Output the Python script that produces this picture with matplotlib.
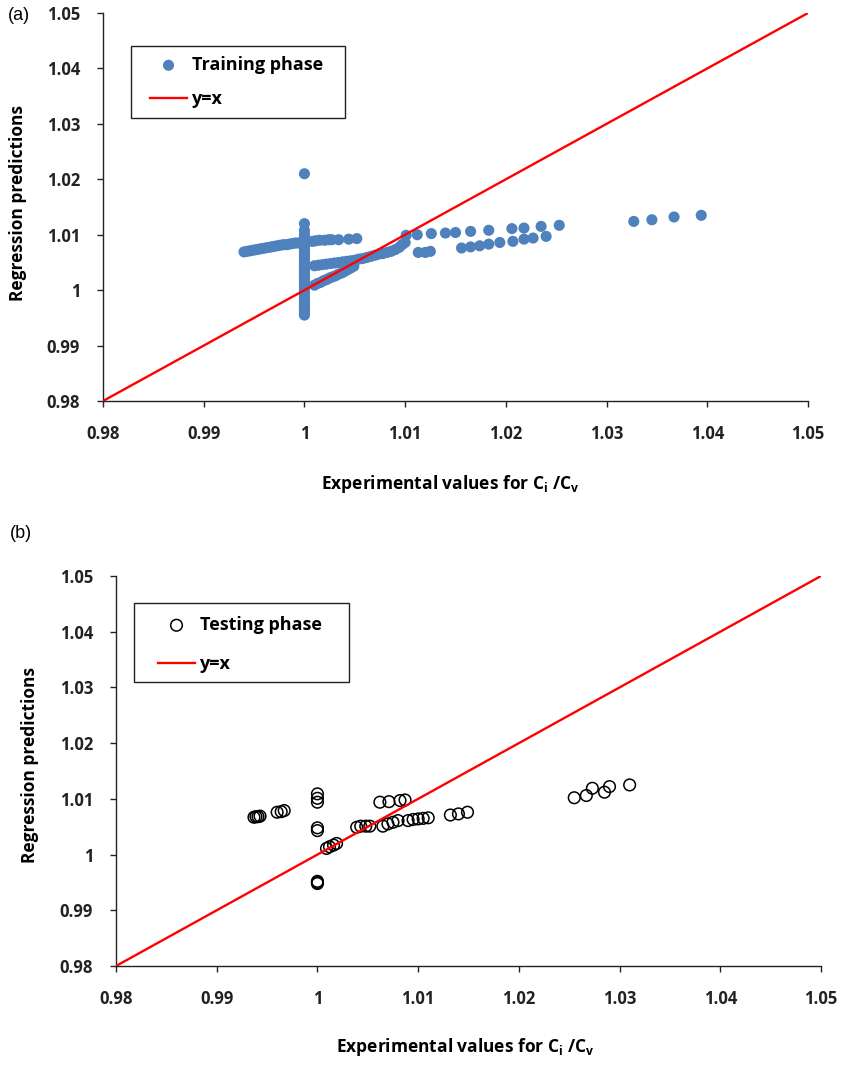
import matplotlib
matplotlib.use("Agg")
import matplotlib.pyplot as plt
from matplotlib.patches import Rectangle

# ---------------- data: training phase (panel a) ----------------
train_col_x = [1.0] * 34
train_col_y = [0.9955, 0.9958, 0.9962, 0.9966, 0.9970, 0.9975, 0.9980, 0.9985, 0.9990, 0.9995,
               1.0000, 1.0005, 1.0010, 1.0015, 1.0020, 1.0025, 1.0030, 1.0035, 1.0040, 1.0045,
               1.0050, 1.0055, 1.0060, 1.0065, 1.0070, 1.0075, 1.0080, 1.0085, 1.0090, 1.0096,
               1.0100, 1.0108, 1.0120, 1.0210]

train_left_x = [0.9940, 0.9943, 0.9946, 0.9949, 0.9952, 0.9955, 0.9958, 0.9961, 0.9964, 0.9967,
                0.9970, 0.9973, 0.9976, 0.9979, 0.9982, 0.9985, 0.9988, 0.9991, 0.9994, 0.9997]
train_left_y = [1.0069, 1.0070, 1.0071, 1.0072, 1.0073, 1.0074, 1.0075, 1.0076, 1.0077, 1.0078,
                1.0079, 1.0080, 1.0081, 1.0082, 1.0082, 1.0083, 1.0084, 1.0085, 1.0085, 1.0086]

train_top_x = [1.0008, 1.0011, 1.0015, 1.0020, 1.0024, 1.0027, 1.0034, 1.0044, 1.0052]
train_top_y = [1.0088, 1.0089, 1.0090, 1.0090, 1.0091, 1.0091, 1.0091, 1.0092, 1.0093]

train_mid_x = [1.0010, 1.0014, 1.0018, 1.0022, 1.0026, 1.0030, 1.0034, 1.0038, 1.0042, 1.0046,
               1.0050, 1.0054, 1.0058, 1.0062, 1.0066, 1.0070, 1.0074, 1.0078, 1.0082, 1.0086,
               1.0090, 1.0094, 1.0097, 1.0100]
train_mid_y = [1.0044, 1.0045, 1.0046, 1.0047, 1.0048, 1.0049, 1.0050, 1.0051, 1.0052, 1.0053,
               1.0054, 1.0056, 1.0057, 1.0059, 1.0061, 1.0063, 1.0065, 1.0066, 1.0068, 1.0070,
               1.0073, 1.0077, 1.0082, 1.0086]

train_low_x = [1.0010, 1.0013, 1.0016, 1.0019, 1.0022, 1.0025, 1.0028, 1.0031, 1.0034, 1.0037,
               1.0040, 1.0043, 1.0046, 1.0049]
train_low_y = [1.0009, 1.0012, 1.0014, 1.0017, 1.0019, 1.0022, 1.0024, 1.0026, 1.0029, 1.0031,
               1.0034, 1.0037, 1.0040, 1.0043]

train_up_x = [1.0101, 1.0112, 1.0126, 1.0140, 1.0150, 1.0165, 1.0183, 1.0206, 1.0218, 1.0235, 1.0253]
train_up_y = [1.0099, 1.0100, 1.0102, 1.0103, 1.0104, 1.0106, 1.0108, 1.0111, 1.0112, 1.0115, 1.0117]

train_lw_x = [1.0113, 1.0120, 1.0125, 1.0156, 1.0165, 1.0174, 1.0183, 1.0194, 1.0207, 1.0218,
              1.0227, 1.0240]
train_lw_y = [1.0068, 1.0068, 1.0070, 1.0076, 1.0078, 1.0080, 1.0083, 1.0086, 1.0088, 1.0092,
              1.0094, 1.0097]

train_far_x = [1.0327, 1.0345, 1.0367, 1.0394]
train_far_y = [1.0124, 1.0127, 1.0132, 1.0135]

train_x = (train_col_x + train_left_x + train_top_x + train_mid_x + train_low_x
           + train_up_x + train_lw_x + train_far_x)
train_y = (train_col_y + train_left_y + train_top_y + train_mid_y + train_low_y
           + train_up_y + train_lw_y + train_far_y)

# ---------------- data: testing phase (panel b) ----------------
test_x = [0.9937, 0.9939, 0.9941, 0.9943,
          0.9960, 0.9964, 0.9967,
          1.0000, 1.0000, 1.0000, 1.0000, 1.0000, 1.0000, 1.0000, 1.0000,
          1.0009, 1.0012, 1.0016, 1.0019,
          1.0039, 1.0043, 1.0048, 1.0052,
          1.0062, 1.0071, 1.0082, 1.0087,
          1.0065, 1.0070, 1.0075, 1.0080, 1.0090, 1.0095, 1.0100, 1.0105, 1.0110,
          1.0132, 1.0140, 1.0149,
          1.0255, 1.0267, 1.0273, 1.0285, 1.0290, 1.0310]
test_y = [1.0067, 1.0068, 1.0068, 1.0069,
          1.0076, 1.0077, 1.0079,
          1.0109, 1.0101, 1.0094, 1.0048, 1.0043, 0.9952, 0.9950, 0.9948,
          1.0011, 1.0014, 1.0017, 1.0020,
          1.0049, 1.0051, 1.0051, 1.0051,
          1.0094, 1.0095, 1.0097, 1.0098,
          1.0051, 1.0055, 1.0058, 1.0061, 1.0061, 1.0063, 1.0064, 1.0065, 1.0066,
          1.0071, 1.0073, 1.0076,
          1.0102, 1.0106, 1.0119, 1.0112, 1.0122, 1.0125]

line_x = [0.98, 1.05]
line_y = [0.98, 1.05]

ticks = [0.98, 0.99, 1.00, 1.01, 1.02, 1.03, 1.04, 1.05]
tick_labels = ["0.98", "0.99", "1", "1.01", "1.02", "1.03", "1.04", "1.05"]

# ---------------- styling ----------------
plt.rcParams['font.family'] = ['Open Sans', 'DejaVu Sans']
plt.rcParams['mathtext.fontset'] = 'custom'
plt.rcParams['mathtext.bf'] = 'Open Sans:bold'
plt.rcParams['mathtext.rm'] = 'Open Sans'

W, H = 842, 1067
fig = plt.figure(figsize=(W / 100, H / 100), dpi=100)

def px_axes(l, r, t, b):
    return fig.add_axes([l / W, 1 - b / H, (r - l) / W, (b - t) / H])

ax_a = px_axes(103, 808, 13, 401)
ax_b = px_axes(116, 821, 576, 966)

blue = '#4F81BD'
xlabel = r'Experimental values for C$_{\mathbf{i}}$ /C$_{\mathbf{v}}$'

def style(ax):
    ax.set_xlim(0.98, 1.05)
    ax.set_ylim(0.98, 1.05)
    ax.set_xticks(ticks)
    ax.set_yticks(ticks)
    ax.set_xticklabels(tick_labels, fontsize=12, fontweight='bold')
    ax.set_yticklabels(tick_labels, fontsize=12, fontweight='bold')
    for s in ['top', 'right']:
        ax.spines[s].set_visible(False)
    for s in ['left', 'bottom']:
        ax.spines[s].set_linewidth(1.0)
        ax.spines[s].set_color('#222222')
    ax.tick_params(axis='x', direction='out', length=4.5, width=1.0, pad=13, colors='#222222')
    ax.tick_params(axis='y', direction='out', length=4.5, width=1.0, pad=12, colors='#222222')
    ax.set_xlabel(xlabel, fontsize=12.5, fontweight='bold')
    ax.set_ylabel('Regression predictions', fontsize=12.5, fontweight='bold')
    ax.xaxis.label.set_va('center')
    ax.yaxis.label.set_va('center')

# panel (a)
ax_a.scatter(train_x, train_y, s=64, color=blue, edgecolors='none', zorder=2,
             label='Training phase')
ax_a.plot(line_x, line_y, color='#FF0000', lw=1.7, zorder=3, label='y=x')
style(ax_a)
ax_a.xaxis.set_label_coords((450 - 103) / 705, (401 - 484) / 388)
ax_a.yaxis.set_label_coords((18 - 103) / 705, (401 - 203) / 388)

# panel (b)
ax_b.scatter(test_x, test_y, s=70, facecolors='none', edgecolors='black', linewidths=1.1,
             zorder=2, label='Testing phase')
ax_b.plot(line_x, line_y, color='#FF0000', lw=1.7, zorder=3, label='y=x')
style(ax_b)
ax_b.xaxis.set_label_coords((465 - 116) / 705, (966 - 1047) / 390)
ax_b.yaxis.set_label_coords((30 - 116) / 705, (966 - 765) / 390)

def legend(ax, box, anchor, spacing):
    x0, y0, x1, y1 = box
    rect = Rectangle((x0 / W, 1 - y1 / H), (x1 - x0) / W, (y1 - y0) / H,
                     transform=fig.transFigure, facecolor='white',
                     edgecolor='#222222', linewidth=1.0, zorder=5, clip_on=False)
    ax.add_patch(rect)
    h, l = ax.get_legend_handles_labels()
    leg = ax.legend(h, l, loc='upper left', bbox_to_anchor=(anchor[0] / W, 1 - anchor[1] / H),
                    bbox_transform=fig.transFigure, borderaxespad=0, frameon=False,
                    prop={'weight': 'bold', 'size': 13}, handlelength=2.05,
                    handletextpad=0.3, borderpad=0, labelspacing=spacing, scatterpoints=1)
    leg.set_zorder(6)
    return leg

legend(ax_a, (131, 46, 345, 118), (150, 56), 0.91)
legend(ax_b, (134, 603, 349, 682), (158, 616), 1.19)

fig.text(8 / W, 1 - 15 / H, '(a)', fontsize=13, family='Liberation Sans', va='center', ha='left')
fig.text(10 / W, 1 - 533 / H, '(b)', fontsize=13, family='Liberation Sans', va='center', ha='left')

fig.savefig('out.png', dpi=100)
